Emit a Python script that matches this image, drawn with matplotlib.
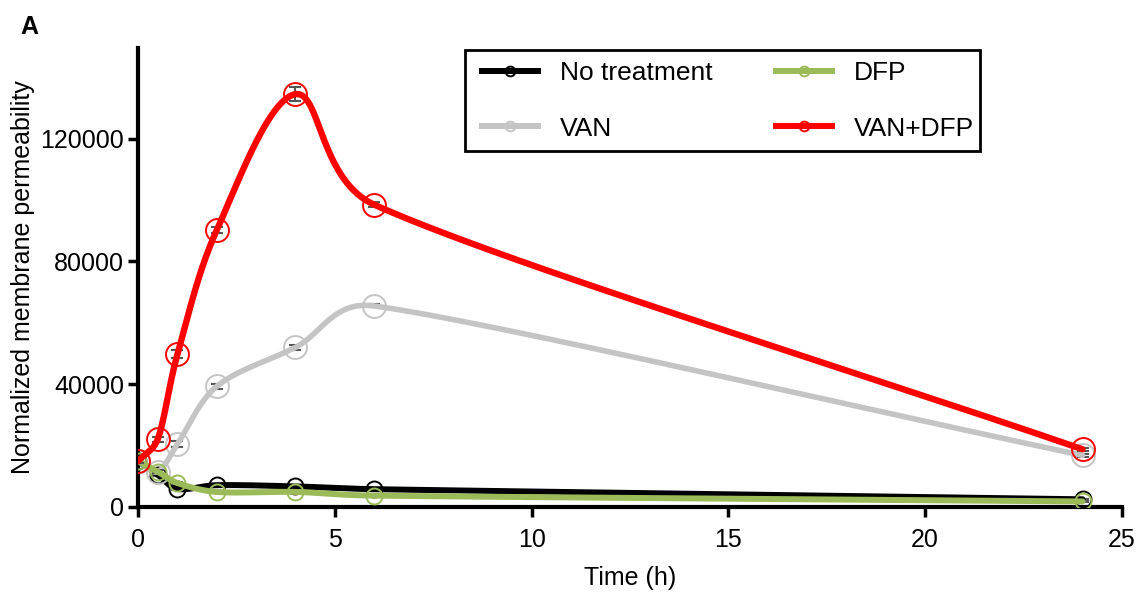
import numpy as np
import matplotlib
matplotlib.use("Agg")
import matplotlib.pyplot as plt
from matplotlib.lines import Line2D
from matplotlib.patches import Rectangle

plt.rcParams['font.family'] = ['Liberation Sans', 'DejaVu Sans']

time_h = [0, 0.5, 1, 2, 4, 6, 24]
no_treatment = [15000, 10500, 5900, 7100, 6700, 5800, 2500]
van = [15000, 11500, 20500, 39300, 52000, 65500, 16800]
dfp = [15000, 11500, 7800, 4900, 4900, 3700, 1800]
van_dfp = [14900, 22100, 49700, 90200, 134500, 98500, 18800]

err_no = [500, 400, 400, 300, 300, 300, 200]
err_van = [600, 600, 1000, 900, 800, 500, 600]
err_dfp = [500, 400, 300, 300, 300, 200, 200]
err_vd = [600, 800, 1300, 900, 2300, 900, 500]

labels = ["No treatment", "VAN", "DFP", "VAN+DFP"]
colors = ["#000000", "#C4C4C4", "#9BBB59", "#FF0000"]


def smooth_line(ax, x, y, n_seg=150):
    """Smooth curve through the points, built in display space.
    Tangent direction: neighbour secant; magnitude: centripetal Catmull-Rom."""
    P = ax.transData.transform(np.column_stack([x, y]))
    Q = np.vstack([2 * P[0] - P[1], P, 2 * P[-1] - P[-2]])
    n = len(P)
    L = np.linalg.norm(np.diff(Q, axis=0), axis=1)
    dt = np.sqrt(L)
    mag = np.zeros(n)
    dirs = np.zeros_like(P)
    for k in range(n):
        i = k + 1
        p0, p1, p2 = Q[i - 1], Q[i], Q[i + 1]
        d0, d1 = dt[i - 1], dt[i]
        v = (p1 - p0) / d0 - (p2 - p0) / (d0 + d1) + (p2 - p1) / d1
        mag[k] = np.linalg.norm(v)
        s = p2 - p0
        dirs[k] = s / np.linalg.norm(s)
    out = []
    t = np.linspace(0, 1, n_seg)[:, None]
    for k in range(n - 1):
        p0, p1 = P[k], P[k + 1]
        h = dt[k + 1]
        m0 = dirs[k] * mag[k] * h
        m1 = dirs[k + 1] * mag[k + 1] * h
        h00 = 2*t**3 - 3*t**2 + 1; h10 = t**3 - 2*t**2 + t
        h01 = -2*t**3 + 3*t**2; h11 = t**3 - t**2
        out.append(h00*p0 + h10*m0 + h01*p1 + h11*m1)
    pts = ax.transData.inverted().transform(np.vstack(out))
    return pts[:, 0], pts[:, 1]


fig = plt.figure(figsize=(11.39, 5.94), dpi=100)
ax = fig.add_axes([0.1212, 0.1465, 0.8638, 0.7725])
ax.set_xlim(0, 25)
ax.set_ylim(0, 149500)

series = [
    (no_treatment, err_no, 11.5, 4.3),
    (van, err_van, 16.5, 4.0),
    (dfp, err_dfp, 11.5, 4.3),
    (van_dfp, err_vd, 16.5, 4.6),
]
for i, ((vals, err, ms, lw), c) in enumerate(zip(series, colors)):
    z = 3 + i
    ax.errorbar(time_h, vals, yerr=err, fmt='none', ecolor='#555555',
                elinewidth=1.5, capsize=4.5, capthick=1.5, zorder=z)
    cx, cy = smooth_line(ax, time_h, vals)
    ax.plot(cx, cy, color=c, lw=lw, zorder=z, solid_capstyle='round',
            solid_joinstyle='round')
    ax.plot(time_h, vals, 'o', ms=ms, mfc='none', mec=c, mew=1.4, zorder=z)

ax.set_xlim(0, 25)
ax.set_ylim(0, 149500)
ax.set_xticks([0, 5, 10, 15, 20, 25])
ax.set_yticks([0, 40000, 80000, 120000])
ax.set_yticklabels(["0", "40000", "80000", "120000"])
for s in ['top', 'right']:
    ax.spines[s].set_visible(False)
for s in ['left', 'bottom']:
    ax.spines[s].set_linewidth(3)
ax.tick_params(axis='both', length=7, width=2.5, labelsize=18)
ax.tick_params(axis='x', pad=8)
ax.tick_params(axis='y', pad=3)
ax.set_xlabel("Time (h)", fontsize=18, labelpad=10)
ax.set_ylabel("Normalized membrane permeability", fontsize=18, labelpad=4)

handles = [Line2D([0], [0], color=c, lw=4.3, marker='o', ms=7, mfc='none',
                  mec=c, mew=1.4) for c in colors]
leg = fig.legend(handles, labels, loc='upper left',
                 bbox_to_anchor=(482/1139, 1 - 61/594), ncol=2,
                 fontsize=19, frameon=False,
                 handlelength=2.12, handletextpad=0.83, columnspacing=2.4,
                 labelspacing=1.2, borderpad=0, borderaxespad=0)
fig.patches.append(Rectangle((465/1139, 1 - 151/594), 515/1139, 101/594,
                             transform=fig.transFigure, fill=False,
                             edgecolor='black', linewidth=2, zorder=10))

fig.text(0.018, 0.975, "A", fontsize=18, fontweight='bold', va='top', ha='left')

fig.savefig("out.png", dpi=100)
